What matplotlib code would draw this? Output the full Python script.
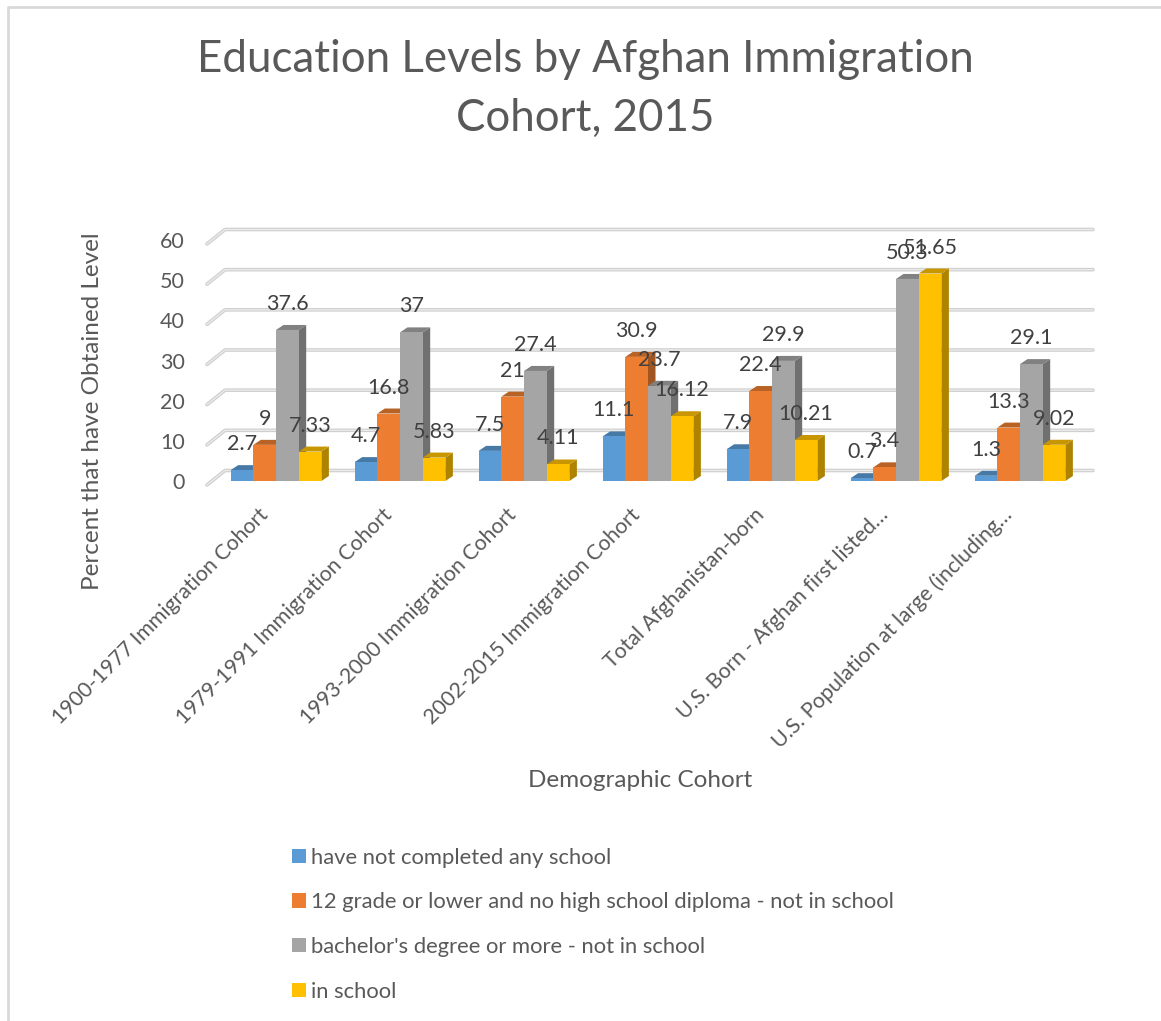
import matplotlib.pyplot as plt
from matplotlib.patches import Polygon, Patch
from matplotlib.colors import to_rgb

plt.rcParams['font.family'] = ['Lato', 'DejaVu Sans']

# -----------------------------
# data
# -----------------------------
cohorts = [
    "1900-1977 Immigration Cohort",
    "1979-1991 Immigration Cohort",
    "1993-2000 Immigration Cohort",
    "2002-2015 Immigration Cohort",
    "Total Afghanistan-born",
    "U.S. Born - Afghan first listed\u2026",
    "U.S. Population at large (including\u2026",
]
series_names = [
    "have not completed any school",
    "12 grade or lower and no high school diploma - not in school",
    "bachelor's degree or more - not in school",
    "in school",
]
no_school = [2.7, 4.7, 7.5, 11.1, 7.9, 0.7, 1.3]
below_hs = [9, 16.8, 21, 30.9, 22.4, 3.4, 13.3]
bachelor = [37.6, 37, 27.4, 23.7, 29.9, 50.3, 29.1]
in_school = [7.33, 5.83, 4.11, 16.12, 10.21, 51.65, 9.02]
value_labels = [
    ["2.7", "4.7", "7.5", "11.1", "7.9", "0.7", "1.3"],
    ["9", "16.8", "21", "30.9", "22.4", "3.4", "13.3"],
    ["37.6", "37", "27.4", "23.7", "29.9", "50.3", "29.1"],
    ["7.33", "5.83", "4.11", "16.12", "10.21", "51.65", "9.02"],
]
series = [no_school, below_hs, bachelor, in_school]
colors = ["#5B9BD5", "#ED7D31", "#A5A5A5", "#FFC000"]
yticks = [0, 10, 20, 30, 40, 50, 60]

TXT = "#595959"


def shade(c, f):
    r, g, b = to_rgb(c)
    return (r * f, g * f, b * f)


W, H = 1161, 1021
fig = plt.figure(figsize=(W / 100, H / 100), dpi=100)

# front plane of the bars: x 214..1082 px, y 481..240 px
ax = fig.add_axes([214 / W, (H - 481) / H, 868 / W, 241 / H])
ax.set_xlim(-0.5, 6.5)
ax.set_ylim(0, 60)
ax.axis("off")

# pixel -> data conversion
p0 = ax.transData.transform((0, 0))
p1 = ax.transData.transform((1, 1))
kx = 1.0 / (p1[0] - p0[0])
ky = 1.0 / (p1[1] - p0[1])

# walls / gridlines
for v in yticks:
    bx0, bx1 = -0.5 + 11 * kx, 6.5 + 11 * kx
    by = v + 10.5 * ky
    fx, fy = -0.5 - 7 * kx, v - 4 * ky
    ax.plot([fx, bx0, bx1], [fy, by, by], color="#cfcfcf", lw=2.6,
            solid_capstyle="round", clip_on=False, zorder=1)
    ax.plot([fx, bx0, bx1], [fy, by, by], color="#ececec", lw=0.9,
            clip_on=False, zorder=1)
    ax.text(-0.5 - 29 * kx, v - 2 * ky, str(v), ha="right", va="center",
            fontsize=15.5, color=TXT)

# bars with pseudo-3D top and side
bw = 0.183
dx, dy = 7.5 * kx, 5 * ky
for i, (vals, col) in enumerate(zip(series, colors)):
    offs = (i - 1.5) * bw
    for j, v in enumerate(vals):
        x0 = j + offs - bw / 2
        x1 = x0 + bw
        z = 10 + i
        side = Polygon([(x1, 0), (x1 + dx, dy), (x1 + dx, v + dy), (x1, v)],
                       closed=True, fc=shade(col, 0.68), ec="none",
                       zorder=z, clip_on=False)
        top = Polygon([(x0, v), (x0 + dx, v + dy), (x1 + dx, v + dy), (x1, v)],
                      closed=True, fc=shade(col, 0.78), ec="none",
                      zorder=z, clip_on=False)
        ax.add_patch(side)
        ax.add_patch(top)
    ax.bar([j + offs for j in range(len(vals))], vals, width=bw, color=col,
           zorder=10 + i, clip_on=False)

# data labels
for i, vals in enumerate(series):
    offs = (i - 1.5) * bw
    for j, v in enumerate(vals):
        ax.text(j + offs, v + 26 * ky, value_labels[i][j], ha="center",
                va="center", fontsize=15.5, color="#404040", zorder=30)

# category labels
for j, name in enumerate(cohorts):
    ax.text(j - 11 * kx, -31 * ky, name, rotation=45, rotation_mode="anchor",
            ha="right", va="center", fontsize=15.3, color=TXT)

# titles
fig.text(585 / W, 1 - 60 / H, "Education Levels by Afghan Immigration",
         ha="center", va="center", fontsize=31.6, color=TXT)
fig.text(585 / W, 1 - 118 / H, "Cohort, 2015",
         ha="center", va="center", fontsize=31.6, color=TXT)
fig.text(93 / W, 1 - 411 / H, "Percent that have Obtained Level", rotation=90,
         ha="center", va="center", fontsize=17.5, color=TXT)
fig.text(640 / W, 1 - 780 / H, "Demographic Cohort", ha="center", va="center",
         fontsize=17.5, color=TXT)

# legend
handles = [Patch(fc=c, ec="none") for c in colors]
fig.legend(handles, series_names, loc="upper left",
           bbox_to_anchor=(283 / W, 1 - 839 / H), frameon=False,
           fontsize=15.8, labelcolor=TXT, handlelength=0.64, handleheight=0.64,
           handletextpad=0.22, labelspacing=1.12, borderaxespad=0)

# chart border (left and top only visible)
fig.add_artist(plt.Line2D([8 / W, 8 / W, 1], [0, 1 - 7 / H, 1 - 7 / H],
                          transform=fig.transFigure, color="#d9d9d9", lw=2))

fig.savefig("out.png", dpi=100)
